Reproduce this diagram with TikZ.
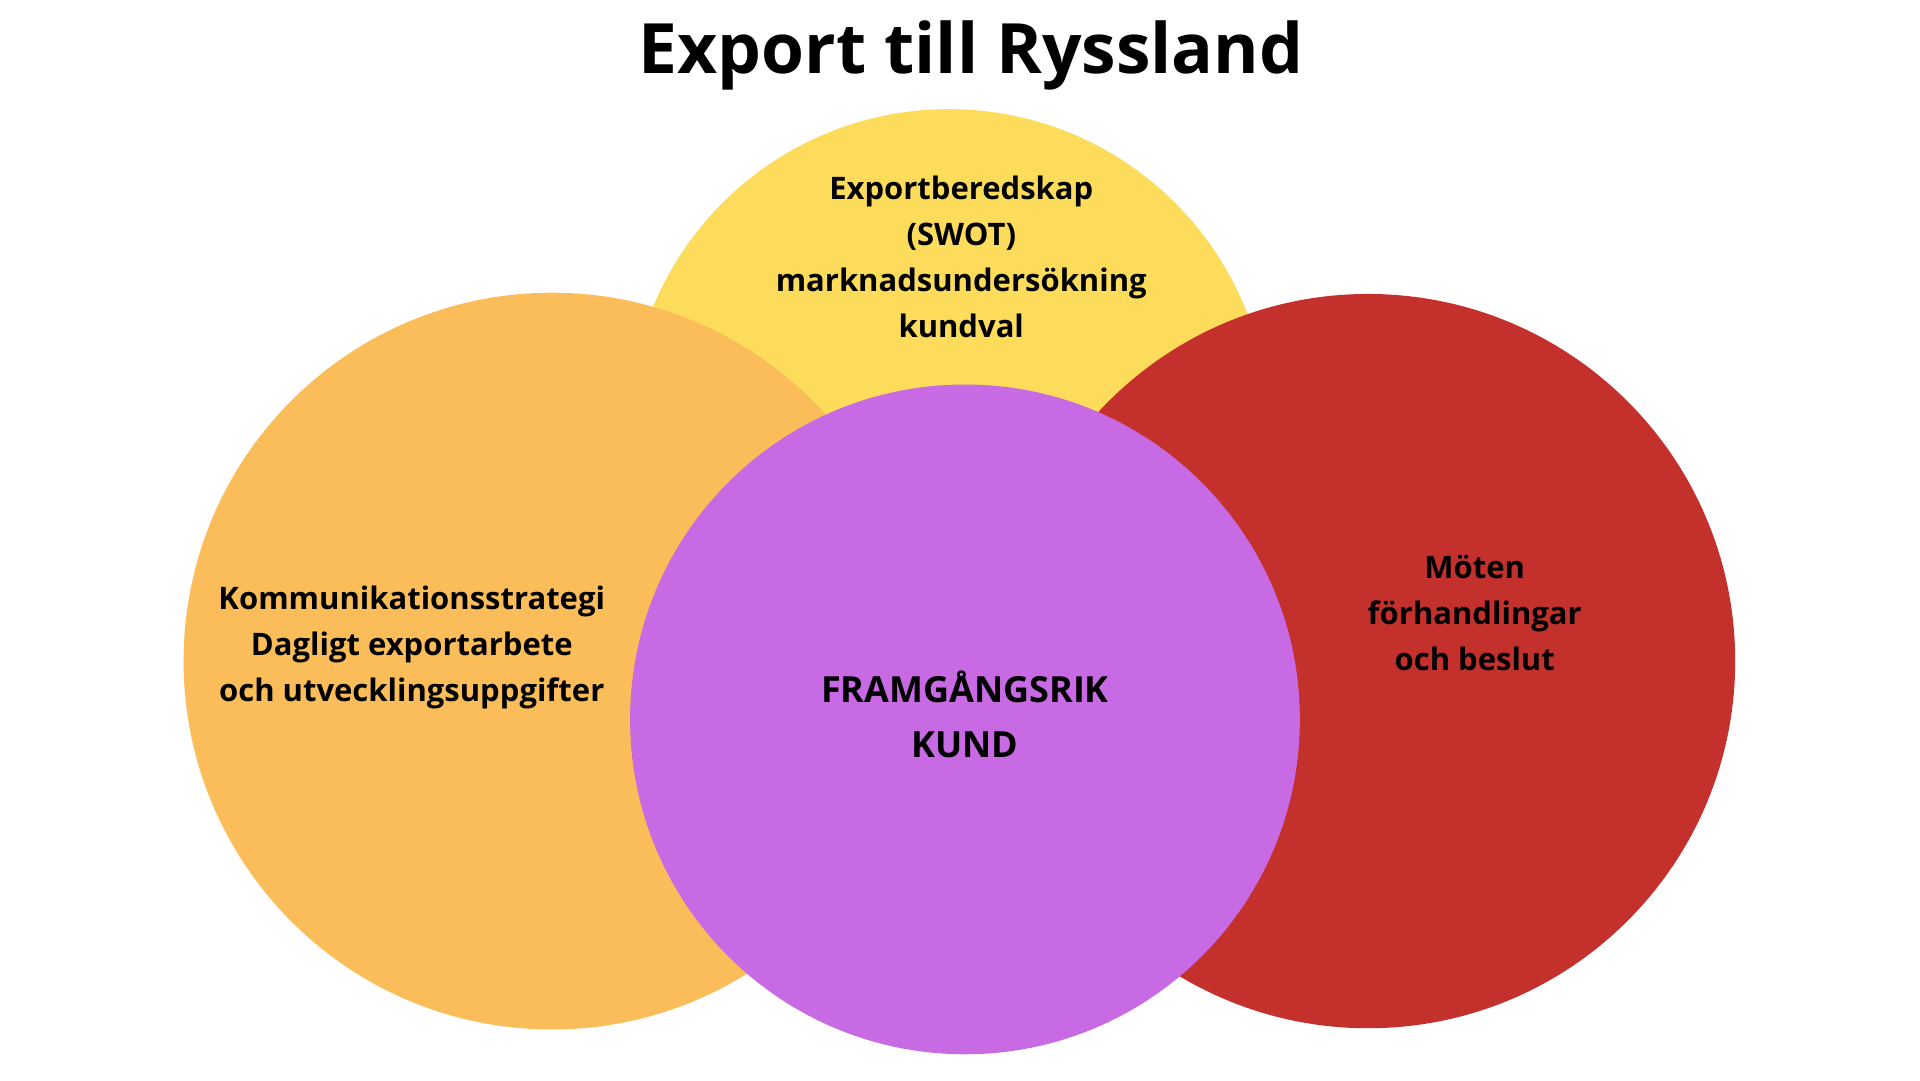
\documentclass[tikz,border=0pt]{standalone}
\usepackage{fontspec}
\setmainfont{Open Sans}
\definecolor{cyel}{HTML}{FDDC5C}
\definecolor{cora}{HTML}{FBBD5A}
\definecolor{cred}{HTML}{C4302B}
\definecolor{cpur}{HTML}{C86AE3}
\begin{document}
\begin{tikzpicture}[x=1pt,y=-1pt,
  lbl/.style={align=center,font=\fontsize{25}{37}\selectfont\bfseries,inner sep=0pt}]
\useasboundingbox (0,0) rectangle (1548,871);
\fill[white] (0,0) rectangle (1548,871);
\fill[cyel] (765,346) circle (258);
\fill[cora] (445,533) circle (297);
\fill[cred] (1103,533) circle (296);
\fill[cpur] (778,580) circle (270);
\node[font=\fontsize{56}{60}\selectfont\bfseries] (title) at (783,45) {Export till Ryssland};
\node[lbl] (y) at (775,207) {Exportberedskap\\(SWOT)\\marknadsundersökning\\kundval};
\node[lbl] (o) at (332,522) {Kommunikationsstrategi\\Dagligt exportarbete\\och utvecklingsuppgifter};
\node[lbl] (r) at (1189,494) {Möten\\förhandlingar\\och beslut};
\node[lbl,font=\fontsize{29}{44}\selectfont\bfseries] (p) at (778,576) {FRAMGÅNGSRIK\\KUND};
\end{tikzpicture}
\end{document}
